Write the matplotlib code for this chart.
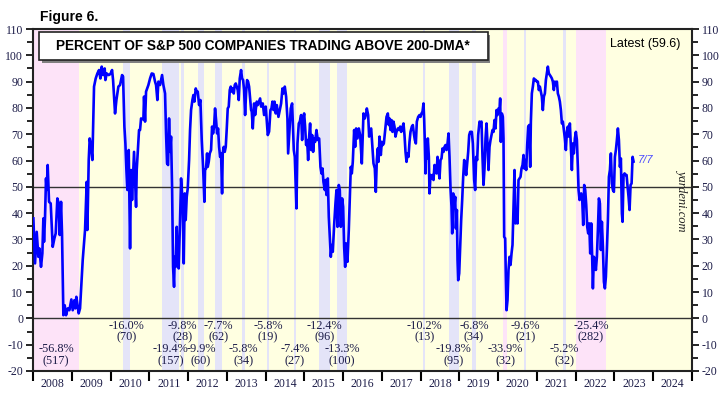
#!/usr/bin/env python3
"""Percent of S&P 500 companies trading above their 200-day moving average."""
import matplotlib
matplotlib.use('Agg')
import matplotlib.pyplot as plt
from matplotlib.patches import Rectangle

plt.rcParams['axes.unicode_minus'] = False

# weekly readings (decimal year, percent)
dates = [
    2008.009, 2008.052, 2008.095, 2008.138, 2008.163, 2008.206, 2008.241, 2008.267, 2008.284, 2008.310,
    2008.335, 2008.353, 2008.378, 2008.413, 2008.456, 2008.508, 2008.551, 2008.585, 2008.628, 2008.662,
    2008.688, 2008.723, 2008.748, 2008.783, 2008.817, 2008.852, 2008.895, 2008.938, 2008.989, 2009.024,
    2009.067, 2009.092, 2009.118, 2009.178, 2009.213, 2009.282, 2009.342, 2009.385, 2009.402, 2009.437,
    2009.462, 2009.497, 2009.531, 2009.574, 2009.617, 2009.660, 2009.703, 2009.738, 2009.772, 2009.806,
    2009.849, 2009.867, 2009.901, 2009.953, 2009.996, 2010.039, 2010.065, 2010.116, 2010.151, 2010.176,
    2010.202, 2010.245, 2010.297, 2010.323, 2010.357, 2010.383, 2010.409, 2010.434, 2010.469, 2010.503,
    2010.529, 2010.555, 2010.606, 2010.658, 2010.675, 2010.735,
    2010.761, 2010.787, 2010.847, 2010.864, 2010.890, 2010.916, 2010.976, 2011.019, 2011.062, 2011.105,
    2011.148, 2011.174, 2011.208, 2011.234, 2011.277, 2011.303, 2011.329, 2011.363, 2011.406, 2011.432,
    2011.458, 2011.484, 2011.509, 2011.535, 2011.561, 2011.587, 2011.613, 2011.638, 2011.656, 2011.681,
    2011.707, 2011.733, 2011.759, 2011.793, 2011.819, 2011.845, 2011.862, 2011.888, 2011.914, 2011.939,
    2011.965, 2011.991, 2012.026, 2012.051, 2012.077, 2012.112, 2012.137, 2012.163, 2012.198, 2012.223,
    2012.249, 2012.284, 2012.318, 2012.352, 2012.387, 2012.404, 2012.421, 2012.438, 2012.464, 2012.490,
    2012.507, 2012.533, 2012.559, 2012.593, 2012.619, 2012.645, 2012.671, 2012.696, 2012.722, 2012.748,
    2012.774, 2012.800, 2012.826, 2012.851, 2012.877, 2012.894, 2012.920, 2012.946, 2012.972, 2012.998,
    2013.023, 2013.049, 2013.075, 2013.101, 2013.127, 2013.152, 2013.178, 2013.204, 2013.230, 2013.256,
    2013.281, 2013.307, 2013.333, 2013.367, 2013.393, 2013.419, 2013.445, 2013.471, 2013.496, 2013.522,
    2013.548, 2013.574,
    2013.626, 2013.643, 2013.669, 2013.703, 2013.729, 2013.772, 2013.798, 2013.858, 2013.884, 2013.927,
    2013.961, 2014.004, 2014.056, 2014.090, 2014.125, 2014.151, 2014.176, 2014.202, 2014.228, 2014.262,
    2014.288, 2014.331, 2014.357, 2014.400, 2014.434, 2014.460, 2014.495, 2014.529, 2014.563, 2014.581,
    2014.615, 2014.649, 2014.684, 2014.710, 2014.727, 2014.753, 2014.778, 2014.796, 2014.822, 2014.856,
    2014.882, 2014.916, 2014.942, 2014.968, 2014.994, 2015.019, 2015.045, 2015.071, 2015.097, 2015.123,
    2015.148, 2015.174, 2015.200, 2015.226, 2015.252, 2015.277, 2015.312, 2015.346, 2015.381, 2015.415,
    2015.441, 2015.467, 2015.492, 2015.527, 2015.544, 2015.570, 2015.604, 2015.630, 2015.656, 2015.682,
    2015.708, 2015.733, 2015.768, 2015.802, 2015.828, 2015.854, 2015.888, 2015.914, 2015.940, 2015.974,
    2016.000, 2016.026, 2016.052, 2016.077, 2016.112, 2016.146, 2016.172, 2016.198, 2016.224, 2016.249,
    2016.284, 2016.310, 2016.335, 2016.370, 2016.404,
    2016.439, 2016.482, 2016.525, 2016.559, 2016.594, 2016.611, 2016.645, 2016.671, 2016.697, 2016.723,
    2016.749, 2016.783, 2016.817, 2016.843, 2016.869, 2016.895, 2016.912, 2016.938, 2016.972, 2016.998,
    2017.024, 2017.050, 2017.084, 2017.119, 2017.153, 2017.179, 2017.196, 2017.222, 2017.248, 2017.273,
    2017.299, 2017.325, 2017.351, 2017.377, 2017.411, 2017.445, 2017.471, 2017.497, 2017.523, 2017.557,
    2017.583, 2017.609, 2017.635, 2017.661, 2017.686, 2017.712, 2017.738, 2017.772, 2017.798, 2017.824,
    2017.850, 2017.876, 2017.901, 2017.936, 2017.970, 2017.996, 2018.022, 2018.048, 2018.073, 2018.091,
    2018.108, 2018.125, 2018.142, 2018.159, 2018.185, 2018.211, 2018.228, 2018.254, 2018.280, 2018.306,
    2018.331, 2018.357, 2018.383, 2018.409, 2018.435, 2018.461, 2018.486, 2018.512, 2018.538, 2018.564,
    2018.590, 2018.615, 2018.641, 2018.667, 2018.693, 2018.719, 2018.744, 2018.770, 2018.796, 2018.813,
    2018.839, 2018.865, 2018.891, 2018.908, 2018.934, 2018.951, 2018.968, 2018.994, 2019.020, 2019.045,
    2019.071, 2019.097, 2019.123, 2019.149, 2019.174, 2019.200, 2019.226, 2019.252,
    2019.277, 2019.320, 2019.346, 2019.380, 2019.406, 2019.432, 2019.458, 2019.483, 2019.518, 2019.544,
    2019.569, 2019.595, 2019.621, 2019.647, 2019.673, 2019.699, 2019.724, 2019.750, 2019.776, 2019.802,
    2019.828, 2019.853, 2019.879, 2019.905, 2019.931, 2019.957, 2019.982, 2020.008, 2020.034, 2020.051,
    2020.068, 2020.094, 2020.120, 2020.137, 2020.154, 2020.180, 2020.197, 2020.215, 2020.240, 2020.266,
    2020.292, 2020.318, 2020.344, 2020.369, 2020.395, 2020.421, 2020.447, 2020.473, 2020.499, 2020.524,
    2020.550, 2020.576, 2020.602, 2020.628, 2020.653, 2020.671, 2020.696, 2020.722, 2020.748, 2020.774,
    2020.800, 2020.825, 2020.843, 2020.868, 2020.894, 2020.920, 2020.946, 2020.972, 2020.997, 2021.023,
    2021.049, 2021.075, 2021.101, 2021.126, 2021.152, 2021.178, 2021.204, 2021.230, 2021.255, 2021.281,
    2021.307, 2021.333, 2021.359, 2021.385, 2021.410, 2021.436, 2021.462, 2021.488, 2021.514, 2021.539,
    2021.565, 2021.591, 2021.617, 2021.643, 2021.668, 2021.694, 2021.720, 2021.746, 2021.772, 2021.797,
    2021.823, 2021.849, 2021.875, 2021.901, 2021.926, 2021.952, 2021.978, 2022.004, 2022.030, 2022.055,
    2022.073, 2022.099,
    2022.142, 2022.168, 2022.193, 2022.219, 2022.245, 2022.271, 2022.297, 2022.322, 2022.348, 2022.374,
    2022.400, 2022.426, 2022.443, 2022.469, 2022.494, 2022.520, 2022.546, 2022.572, 2022.598, 2022.624,
    2022.649, 2022.675, 2022.701, 2022.727, 2022.753, 2022.778, 2022.804, 2022.830, 2022.856, 2022.882,
    2022.907, 2022.933, 2022.959, 2022.985, 2023.011, 2023.036, 2023.062, 2023.088, 2023.114, 2023.140,
    2023.165, 2023.191, 2023.208, 2023.234, 2023.260, 2023.286, 2023.312, 2023.338, 2023.363, 2023.389,
    2023.415, 2023.441, 2023.467, 2023.492,
]
pct_above = [
    38, 20.9, 32.9, 23.4, 26.6, 19.6, 24.7, 38, 29.1, 38.6,
    53.2, 48.8, 58.3, 44.3, 43.7, 27.2, 30.4, 32.3, 45.6, 43.7,
    31.7, 44.3, 32.3, 1.2, 5, 1.2, 3.8, 3.1, 7.2, 3.1,
    6.9, 3.8, 8.2, 1.9, 3.8, 22.2, 33.6, 51.9, 33.6, 60.2,
    68.4, 65.2, 60.2, 88.1, 91.2, 93.1, 94.4, 91.2, 95.7, 92.5,
    95, 90.6, 93.1, 92.5, 92.9, 94.4, 90.6, 77.9, 83, 85.5,
    88.1, 88.7, 92.5, 91.9, 72.9, 66.5, 56.4, 48.8, 64, 26.6,
    56.4, 45, 63.3, 42.4, 56.4, 71.6,
    71.6, 76, 75.6, 84.3, 74.8, 86.2, 88.7, 91.2, 93.1, 92.9,
    90, 88.7, 83, 90, 88.7, 90.6, 92.5, 88.7, 85.5, 70.3,
    58.9, 58.3, 76, 63.3, 69.1, 50, 19.6, 12, 23.4, 19.6,
    34.8, 20.3, 19, 37.4, 53.2, 46.9, 43.1, 20.9, 47.5, 37.4,
    46.2, 49.4, 60.2, 71.6, 79.2, 83, 84.9, 82.4, 87.4, 86.2,
    86.2, 81.1, 83, 67.8, 57.6, 51.3, 44.3, 56.4, 57, 62.7,
    57.6, 59.5, 62.7, 64, 72.9, 70.3, 72.9, 79.8, 75.4, 70.3,
    72.2, 65.2, 61.4, 62.7, 47.5, 62.7, 65.2, 63.3, 65.2, 72.2,
    79.8, 80.5, 86.8, 88.1, 86.2, 87.4, 85.5, 88.7, 89.3, 88.1,
    86.8, 83, 91.2, 94.4, 91.2, 90.6, 86.8, 77.3, 85.5, 90.6,
    90, 88.1,
    79.2, 78.6, 72.2, 81.7, 77.3, 82.4, 81.1, 83.6, 80.5, 81.7,
    77.3, 80.5, 69.7, 71, 79.2, 79.8, 82.4, 79.2, 82.4, 77.9,
    81.1, 76.6, 78.6, 81.7, 87.4, 85.5, 88.1, 84.3, 76, 62.7,
    71.6, 79.8, 81.7, 71.6, 64, 61.4, 50, 41.8, 66.5, 74.1,
    74.8, 77.3, 67.8, 75.4, 77.9, 72.9, 65.9, 67.8, 60.2, 69.1,
    74.1, 64, 69.7, 63.3, 68.4, 67.1, 71.6, 67.8, 68.4, 57.6,
    55.1, 57, 51.9, 48.8, 52.6, 46.9, 53.2, 38.6, 31, 23.4,
    27.9, 25.3, 35.5, 43.7, 48.8, 34.8, 50.7, 48.8, 34.8, 45.6,
    42.4, 27.2, 19.6, 28.5, 21.5, 33.6, 46.2, 57.6, 55.1, 59.5,
    71.6, 65.2, 72.2, 68.4, 72.2,
    69.7, 58.9, 77.9, 76, 77.9, 79.8, 77.3, 69.1, 71.6, 72.2,
    66.5, 58.9, 57, 48.1, 60.2, 64.6, 59.5, 69.1, 62.1, 67.1,
    65.9, 66.5, 71.6, 76.6, 77.9, 73.5, 76, 71.6, 75.4, 70.9,
    74.8, 72.9, 69.1, 70.9, 72.2, 71.6, 72.9, 70.9, 72.2, 74.1,
    69.7, 63.3, 59.5, 62.7, 61.4, 67.1, 70.9, 72.9, 73.5, 70.3,
    67.8, 66.5, 74.8, 76.6, 77.3, 76.6, 77.9, 78.6, 81.7, 75.4,
    66.5, 55.1, 67.8, 60.8, 68.4, 61.4, 47.5, 54.5, 53.2, 54.5,
    52.6, 58.3, 57, 55.1, 61.4, 56.4, 53.2, 60.2, 60.8, 64.6,
    63.3, 65.2, 65.9, 64, 66.5, 70.3, 61.4, 49.4, 42.4, 32.3,
    47.5, 41.8, 46.2, 34.2, 41.2, 22.2, 14.5, 17.1, 27.9, 37.4,
    45, 53.8, 60.2, 57.6, 54.5, 58.9, 63.3, 69.7,
    70.9, 70.9, 66.5, 52.6, 48.8, 61.4, 60.2, 69.7, 74.8, 74.1,
    74.8, 61.4, 50.7, 57, 68.4, 74.1, 66.5, 56.4, 65.2, 67.8,
    69.7, 71.6, 70.9, 75.4, 72.2, 79.2, 77.3, 79.8, 79.2, 83.6,
    67.1, 77.9, 76.6, 68.4, 31, 30.4, 15.8, 3.1, 6.9, 18.4,
    23.4, 20.3, 24.7, 27.9, 42.4, 56.4, 36.1, 41.2, 36.1, 52.6,
    53.2, 53.8, 57, 58.3, 62.1, 57, 60.2, 56.4, 65.9, 72.9,
    73.5, 57.6, 74.8, 85.5, 88.1, 91.2, 90.6, 90.6, 90, 90,
    86.8, 88.1, 86.2, 84.3, 79.2, 84.3, 85.5, 90.6, 93.1, 95.7,
    93.1, 92.5, 91.9, 91.2, 90, 86.8, 90, 88.7, 90, 85.5,
    84.3, 82.4, 79.2, 74.1, 74.8, 71.6, 68.4, 64, 70.9, 72.9,
    69.1, 74.1, 65.2, 56.4, 66.5, 62.7, 68.4, 70.9, 67.8, 57.6,
    48.8, 45,
    47.5, 45, 35.5, 50.7, 48.8, 43.1, 34.8, 32.3, 36.1, 24.7,
    36.1, 22.2, 11.4, 23.4, 22.2, 18.4, 23.4, 33.6, 45.6, 43.7,
    26, 36.7, 27.2, 13.9, 11.4, 15.8, 26, 37.4, 53.8, 56.4,
    62.7, 51.3, 48.8, 48.1, 61.4, 64, 67.8, 72.2, 67.8, 57.6,
    60.8, 39.9, 36.7, 54.5, 55.1, 54.5, 54.5, 50, 46.2, 41.2,
    50.7, 51.3, 61.4, 59.6,
]

# S&P 500 declines: start, end (decimal year), kind, size, trading days, label row
ev_start = [2007.77, 2010.31, 2011.33, 2011.82, 2012.25, 2012.70, 2013.39, 2014.04, 2014.72,
            2015.39, 2015.84, 2018.07, 2018.72, 2019.33, 2020.13, 2020.67, 2021.67, 2022.00]
ev_end = [2009.19, 2010.50, 2011.76, 2011.90, 2012.42, 2012.87, 2013.48, 2014.09, 2014.79,
          2015.65, 2016.11, 2018.11, 2018.98, 2019.42, 2020.23, 2020.73, 2021.76, 2022.78]
ev_kind = ['bear', 'corr', 'corr', 'corr', 'corr', 'corr', 'corr', 'corr', 'corr',
           'corr', 'corr', 'corr', 'corr', 'corr', 'bear', 'corr', 'corr', 'bear']
ev_pct = ['-56.8%', '-16.0%', '-19.4%', '-9.8%', '-9.9%', '-7.7%', '-5.8%', '-5.8%', '-7.4%',
          '-12.4%', '-13.3%', '-10.2%', '-19.8%', '-6.8%', '-33.9%', '-9.6%', '-5.2%', '-25.4%']
ev_days = ['(517)', '(70)', '(157)', '(28)', '(60)', '(62)', '(34)', '(19)', '(27)',
           '(96)', '(100)', '(13)', '(95)', '(34)', '(32)', '(21)', '(32)', '(282)']
ev_row = ['low', 'high', 'low', 'high', 'low', 'high', 'low', 'high', 'low',
          'high', 'low', 'high', 'low', 'high', 'low', 'high', 'low', 'high']

years = list(range(2008, 2025))
latest_label = 'Latest (59.6)'
latest_date = '7/7'

X0, X1 = 2008, 2025
BG = '#ffffe1'
BAND = {'bear': '#fde3f8', 'corr': '#e4e4f8'}
NAVY = '#1c1c48'
SERIF = ['Liberation Serif', 'DejaVu Serif']

fig = plt.figure(figsize=(7.21, 3.99), dpi=100)
ax = fig.add_axes([0.0458, 0.0702, 0.914, 0.8571])
ax.set_facecolor(BG)

for s, e, k, p, d, r in zip(ev_start, ev_end, ev_kind, ev_pct, ev_days, ev_row):
    ax.axvspan(s, e, color=BAND[k], lw=0, zorder=0)
    xc = (max(s, X0) + e) / 2
    y1, y2 = (-3.0, -7.3) if r == 'high' else (-11.8, -16.2)
    ax.text(xc, y1, p, ha='center', va='center', fontsize=8.8, family=SERIF, color=NAVY)
    ax.text(xc, y2, d, ha='center', va='center', fontsize=8.8, family=SERIF, color=NAVY)

ax.axhline(50, color='#333333', lw=1.0, zorder=2)
ax.axhline(0, color='#333333', lw=1.0, zorder=2)
ax.plot(dates, pct_above, color='#0000ff', lw=1.9, zorder=3)

ax.set_xlim(X0, X1)
ax.set_ylim(-20, 110)

ax.set_yticks(range(-20, 111, 10))
ax.set_yticks(range(-15, 110, 10), minor=True)
ax.tick_params(axis='y', which='both', left=True, right=True, labelleft=True, labelright=True,
               direction='out', width=1.2, colors='black', labelcolor=NAVY, labelsize=8.5, pad=2)
ax.tick_params(axis='y', which='major', length=5)
ax.tick_params(axis='y', which='minor', length=4)

ax.set_xticks(range(X0, X1 + 1))
ax.set_xticklabels([])
ax.set_xticks([y + 0.5 for y in years], minor=True)
ax.set_xticklabels([str(y) for y in years], minor=True)
ax.tick_params(axis='x', which='major', direction='out', length=7, width=1.5)
ax.tick_params(axis='x', which='minor', length=0, pad=5, labelsize=8.5, labelcolor=NAVY)
for lab in ax.get_xticklabels(minor=True) + ax.get_yticklabels():
    lab.set_family(SERIF)

for sp in ax.spines.values():
    sp.set_linewidth(1.5)
    sp.set_color('#222222')

# title box with a drop shadow
ax.add_patch(Rectangle((0.013, 0.900), 0.681, 0.083, transform=ax.transAxes,
                       facecolor='#808080', edgecolor='none', zorder=4))
ax.add_patch(Rectangle((0.009, 0.909), 0.681, 0.083, transform=ax.transAxes,
                       facecolor='white', edgecolor='#222222', lw=1.2, zorder=5))
ax.text(0.349, 0.950, 'PERCENT OF S&P 500 COMPANIES TRADING ABOVE 200-DMA*',
        transform=ax.transAxes, ha='center', va='center', fontsize=9.8, fontweight='bold',
        family='Liberation Sans', color='black', zorder=6)

ax.text(0.929, 0.955, latest_label, transform=ax.transAxes, ha='center', va='center',
        fontsize=9, family='Liberation Sans', color='black')
ax.text(dates[-1] + 0.12, pct_above[-1] + 0.5, latest_date, ha='left', va='center',
        fontsize=8, style='italic', family='Liberation Sans', color='#4a4aff')
ax.text(0.985, 0.50, 'yardeni.com', transform=ax.transAxes, ha='center', va='center',
        rotation=-90, fontsize=9, style='italic', family=SERIF, color='#222222')

fig.text(0.055, 0.957, 'Figure 6.', ha='left', va='center', fontsize=10, fontweight='bold',
         family='Liberation Sans', color='black')

fig.savefig('out.png', dpi=100)
